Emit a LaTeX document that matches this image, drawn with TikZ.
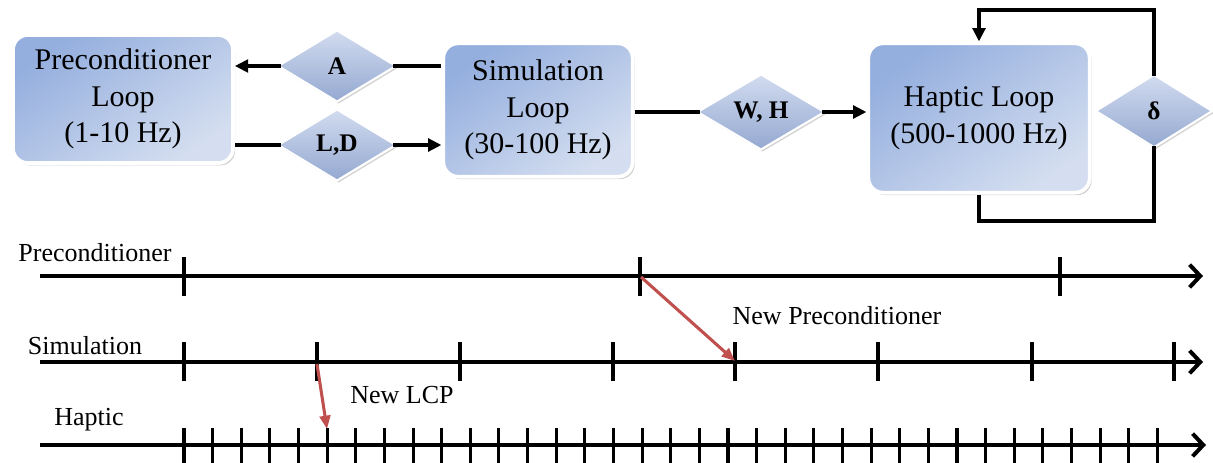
\documentclass[tikz,border=0pt]{standalone}
\usepackage{fontspec}
\setmainfont{Liberation Serif}
\usetikzlibrary{arrows.meta,shapes.geometric,shadows,calc}
\definecolor{boxtop}{RGB}{148,174,222}
\definecolor{boxbot}{RGB}{212,222,240}
\definecolor{dtop}{RGB}{210,220,240}
\definecolor{dbot}{RGB}{148,168,208}
\definecolor{redarrow}{RGB}{192,80,77}
\begin{document}
\begin{tikzpicture}[x=0.75pt,y=-0.75pt,
  loopbox/.style={rectangle, rounded corners=11pt, draw=white, line width=2.8pt,
    top color=boxtop, bottom color=boxbot, shading angle=35,
    drop shadow={shadow xshift=1.5pt,shadow yshift=-1.8pt,opacity=0.4},
    align=center, inner sep=0pt, font=\fontsize{22.5}{27.5}\selectfont},
  datadiamond/.style={diamond, draw=white, line width=1.6pt, inner sep=0pt,
    top color=dtop, bottom color=dbot,
    drop shadow={shadow xshift=1.2pt,shadow yshift=-1.5pt,opacity=0.35},
    font=\bfseries\fontsize{19}{22}\selectfont},
  conn/.style={line width=3pt, draw=black},
  tiparrow/.style={-{Triangle[length=10pt,width=9.5pt]}},
  timeline/.style={line width=3.2pt, -{Straight Barb[length=8pt,width=17pt,line width=3pt]}},
  tickmark/.style={line width=2.3pt},
  redarr/.style={line width=2.3pt, draw=redarrow, -{Triangle[length=10pt,width=8pt]}, redarrow},
  lbl/.style={font=\fontsize{19.5}{23}\selectfont, inner sep=0pt, anchor=base}
]
\useasboundingbox (0,0) rectangle (1213,463);

% ---- top diagram ----
\node[loopbox, minimum width=165pt, minimum height=96pt] (pre) at (123,99)
  {Preconditioner\\Loop\\(1-10 Hz)};
\node[loopbox, minimum width=142pt, minimum height=100pt] (sim) at (538,110)
  {Simulation\\Loop\\(30-100 Hz)};
\node[loopbox, minimum width=166pt, minimum height=112pt] (hap) at (979,118)
  {Haptic Loop\\(500-1000 Hz)};

\node[datadiamond, minimum width=89pt, minimum height=54pt] (A) at (337,66) {A};
\node[datadiamond, minimum width=89pt, minimum height=54pt] (LD) at (337,145) {L,D};
\node[datadiamond, minimum width=96pt, minimum height=56pt] (WH) at (761,112) {W, H};
\node[datadiamond, minimum width=88pt, minimum height=55pt] (dl) at (1154,111) {δ};

\draw[conn, tiparrow] ([xshift=3pt]A.west) -- (A.west -| pre.east);
\draw[conn] ([xshift=-3pt]A.east) -- (A.east -| sim.west);
\draw[conn] (LD.west -| pre.east) -- ([xshift=3pt]LD.west);
\draw[conn, tiparrow] ([xshift=-3pt]LD.east) -- (LD.east -| sim.west);
\draw[conn] (WH.west -| sim.east) -- ([xshift=3pt]WH.west);
\draw[conn, tiparrow] ([xshift=-3pt]WH.east) -- (WH.east -| hap.west);

\coordinate (looptop) at (1154,10);
\coordinate (loopbot) at (1154,221);
\draw[conn, tiparrow] ([yshift=-2pt]dl.north) -- (looptop) -| (hap.north);
\draw[conn] ([yshift=2pt]dl.south) -- (loopbot) -| (hap.south);

% ---- timelines ----
\node[lbl] (tpre) at (95,262) {Preconditioner};
\node[lbl] (tsim) at (85,354) {Simulation};
\node[lbl] (thap) at (89,425) {Haptic};

\coordinate (p0) at (40,276);
\coordinate (p1) at (1203,276);
\coordinate (s0) at (40,362);
\coordinate (s1) at (1203,362);
\coordinate (h0) at (40,445);
\coordinate (h1) at (1206,445);
\draw[timeline] (p0) -- (p1);
\draw[timeline] (s0) -- (s1);
\draw[timeline] (h0) -- (h1);

\foreach \x in {184,640,1060} \draw[tickmark] (\x,257) -- (\x,296);
\foreach \x in {184,317,460,613,735,878,1032,1174} \draw[tickmark] (\x,342) -- (\x,381);
\foreach \k in {0,...,34} \draw[tickmark] ({184+\k*28.63},428) -- ++(0,40);

\coordinate (pnew) at (641,277);
\coordinate (snew) at (735,361);
\coordinate (slcp) at (317,364);
\coordinate (hlcp) at (327,429);
\draw[redarr] (pnew) -- (snew);
\draw[redarr] (slcp) -- (hlcp);

\node[lbl] (npre) at (837,325) {New Preconditioner};
\node[lbl] (nlcp) at (402,403) {New LCP};
\end{tikzpicture}
\end{document}
